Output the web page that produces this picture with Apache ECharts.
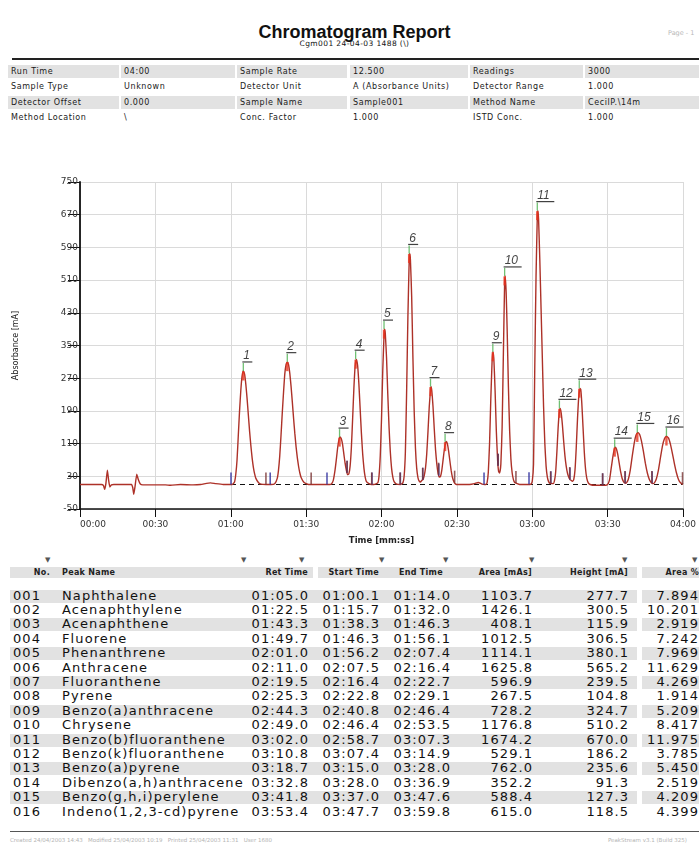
<!DOCTYPE html>
<html><head><meta charset="utf-8">
<script src="https://cdn.jsdelivr.net/npm/echarts/dist/echarts.min.js"></script>
<style>
html,body{margin:0;padding:0;background:#fff;}
body{width:699px;height:846px;position:relative;overflow:hidden;font-family:"DejaVu Sans",sans-serif;color:#111;}
.a{position:absolute;white-space:nowrap;}
.band{position:absolute;background:#e2e2e2;}
.info{font-size:8px;letter-spacing:0.6px;color:#1a1a1a;line-height:13px;}
.hdr{font-size:8px;font-weight:bold;letter-spacing:0.3px;color:#222;line-height:10px;}
.cell{font-size:13px;letter-spacing:1.1px;color:#111;line-height:14px;}
#chart{position:absolute;left:0;top:140px;width:699px;height:410px;}
</style>
</head><body>
<div class="a" style="left:5px;width:699px;top:21px;text-align:center;font-family:'Liberation Sans',Arial,sans-serif;font-weight:bold;font-size:18px;line-height:22px;">Chromatogram Report</div>
<div class="a" style="left:5px;width:699px;top:39px;text-align:center;font-size:7.5px;line-height:10px;letter-spacing:0.4px;">Cgm001 24-04-03 1488 (\)</div>
<div class="a" style="left:668px;top:29px;font-size:6.5px;color:#b8b8b8;line-height:9px;">Page - 1</div>
<div class="a" style="left:12px;top:58px;width:687px;height:2px;background:#222;"></div>
<div id="info"></div>
<div id="chart"></div>
<div id="table"></div>
<div class="a" style="left:10px;top:831px;width:689px;height:1px;background:#555;"></div>
<div class="a" style="left:10px;top:836px;font-size:5.5px;color:#b4b4b4;line-height:8px;">Created 24/04/2003 14:43 &nbsp; Modified 25/04/2003 10:19 &nbsp; Printed 25/04/2003 11:31 &nbsp; User 1680</div>
<div class="a" style="left:608px;top:836px;font-size:5.5px;color:#b4b4b4;line-height:8px;">PeakStream v3.1 (Build 325)</div>
<script>
// ---------------- data ----------------
const infoRows = [
  ['Run Time','04:00','Sample Rate','12.500','Readings','3000'],
  ['Sample Type','Unknown','Detector Unit','A (Absorbance Units)','Detector Range','1.000'],
  ['Detector Offset','0.000','Sample Name','Sample001','Method Name','CecilP.\\14m'],
  ['Method Location','\\','Conc. Factor','1.000','ISTD Conc.','1.000']
];
const xTickLabels = ['00:00','00:30','01:00','01:30','02:00','02:30','03:00','03:30','04:00'];
const tableHeaders = ['No.','Peak Name','Ret Time','Start Time','End Time','Area [mAs]','Height [mA]','Area %'];
const peakNo = ['001','002','003','004','005','006','007','008','009','010','011','012','013','014','015','016'];
const peakNames = ['Naphthalene','Acenaphthylene','Acenaphthene','Fluorene','Phenanthrene','Anthracene','Fluoranthene','Pyrene','Benzo(a)anthracene','Chrysene','Benzo(b)fluoranthene','Benzo(k)fluoranthene','Benzo(a)pyrene','Dibenzo(a,h)anthracene','Benzo(g,h,i)perylene','Indeno(1,2,3-cd)pyrene'];
const retTimes = ['01:05.0','01:22.5','01:43.3','01:49.7','02:01.0','02:11.0','02:19.5','02:25.3','02:44.3','02:49.0','03:02.0','03:10.8','03:18.7','03:32.8','03:41.8','03:53.4'];
const startTimes = ['01:00.1','01:15.7','01:38.3','01:46.3','01:56.2','02:07.5','02:16.4','02:22.8','02:40.8','02:46.4','02:58.7','03:07.4','03:15.0','03:28.0','03:37.0','03:47.7'];
const endTimes = ['01:14.0','01:32.0','01:46.3','01:56.1','02:07.4','02:16.4','02:22.7','02:29.1','02:46.4','02:53.5','03:07.3','03:14.9','03:28.0','03:36.9','03:47.6','03:59.8'];
const areas = ['1103.7','1426.1','408.1','1012.5','1114.1','1625.8','596.9','267.5','728.2','1176.8','1674.2','529.1','762.0','352.2','588.4','615.0'];
const heights = [277.7,300.5,115.9,306.5,380.1,565.2,239.5,104.8,324.7,510.2,670.0,186.2,235.6,91.3,127.3,118.5];
const areaPct = ['7.894','10.201','2.919','7.242','7.969','11.629','4.269','1.914','5.209','8.417','11.975','3.785','5.450','2.519','4.209','4.399'];
const baselineLevel = 10;
// detector trace [seconds, mA]
const trace = [
[0,10],[8.5,10],[9.3,8],[9.8,-2],[10.3,12],[10.9,45],[11.4,20],[11.9,4],[12.5,9],[13.5,10],
[20.5,10],[21.0,2],[21.4,-14],[21.9,5],[22.6,35],[23.2,22],[24,11],[25,9],
[34,9],[36,8],[40,10],[45,9],[48,10],[52,14],[54,12],[57,10],[60,10],
[60.5,10],[61.5,16],[62,35],[62.5,70],[63,130],[63.5,190],[64,240],[64.5,275],[65,288],[65.5,280],[66,255],[66.5,220],[67,180],[67.5,140],[68,105],[68.5,75],[69,52],[69.5,36],[70,25],[71,15],[72,11],[74,10],
[76,10],[77.5,12],[78.5,25],[79,45],[79.5,80],[80,130],[80.5,185],[81,235],[81.5,280],[82,303],[82.5,310],[83,303],[83.5,282],[84,250],[84.5,212],[85,172],[85.5,135],[86,102],[86.5,75],[87,54],[87.5,38],[88,27],[89,16],[90,12],[91,10],[98,10],
[100,11],[100.8,20],[101.5,45],[102,70],[102.5,98],[103,118],[103.5,126],[104,122],[104.5,108],[105,85],[105.5,62],[106,45],[106.5,34],
[107,36],[107.5,55],[108,100],[108.5,170],[109,245],[109.5,300],[110,316],[110.5,300],[111,255],[111.5,195],[112,135],[112.5,85],[113,50],[113.5,28],[114,17],[115,12],[116,10],
[117,10],[118.5,14],[119,30],[119.5,80],[120,170],[120.5,290],[121,375],[121.2,390],[121.5,380],[122,320],[122.5,230],[123,150],[123.5,90],[124,50],[124.5,28],[125,17],[126,11],[127.5,10],
[128.5,14],[129,30],[129.5,90],[130,240],[130.5,420],[131,555],[131.2,575],[131.5,560],[132,470],[132.5,320],[133,190],[133.5,100],[134,50],[134.5,27],[135,18],[135.5,16],[136,20],
[136.5,22],[137,32],[137.5,50],[138,85],[138.5,140],[139,200],[139.5,242],[139.7,249],[140,240],[140.5,200],[141,145],[141.5,95],[142,60],[142.5,38],[143,28],
[143.5,30],[144,45],[144.5,70],[145,95],[145.5,112],[145.8,115],[146.2,110],[146.7,92],[147.2,68],[147.7,45],[148.2,28],[148.8,17],[149.5,11],[150.5,10],
[155,10],[157,12],[158.5,15],[160,11],[161,10],
[161.5,10],[162,14],[162.5,40],[163,110],[163.5,220],[164,310],[164.3,335],[164.7,318],[165.2,240],[165.7,140],[166.2,70],[166.6,42],
[167,38],[167.5,60],[168,150],[168.5,330],[169,505],[169.2,520],[169.6,480],[170,390],[170.5,250],[171,140],[171.5,72],[172,38],[172.5,22],[173,15],[174,12],[175,10],
[178,10],[179.5,11],[180,18],[180.5,60],[181,300],[181.5,520],[182,665],[182.2,680],[182.5,660],[183,560],[183.5,440],[184,320],[184.5,200],[185,110],[185.5,55],[186,28],[186.5,17],[187,13],[188.3,12],
[188.8,18],[189.3,40],[189.8,90],[190.3,150],[190.8,190],[191.1,196],[191.5,185],[192,155],[192.5,115],[193,80],[193.5,55],[194,38],[194.5,28],[195,22],[195.5,20],[196,18],
[196.5,22],[197,45],[197.5,100],[198,170],[198.5,225],[199,245],[199.3,242],[199.7,210],[200.2,150],[200.7,90],[201.2,48],[201.7,25],[202.3,14],[203,10],[205,8],[208,8],[209.8,9],
[210.7,20],[211.3,45],[212,75],[212.6,95],[213,101],[213.5,97],[214,84],[214.6,62],[215.2,40],[215.8,24],[216.5,15],[217,13],
[217.5,14],[218.2,22],[219,45],[219.8,80],[220.6,112],[221.3,131],[222,137],[222.7,133],[223.4,118],[224.2,92],[225,62],[225.8,38],[226.6,22],[227.4,14],[228,12],
[228.6,14],[229.4,24],[230.2,45],[231,75],[231.8,104],[232.6,122],[233.4,128],[234.2,124],[235,108],[235.8,85],[236.6,60],[237.4,38],[238.2,22],[239,14],[240,10]
];

// ---------------- helpers ----------------
function toSec(s){const p=s.split(':');return parseInt(p[0],10)*60+parseFloat(p[1]);}
function valueAt(t){
  for(let i=1;i<trace.length;i++){
    if(trace[i][0]>=t){const a=trace[i-1],b=trace[i];const f=(t-a[0])/((b[0]-a[0])||1);return a[1]+(b[1]-a[1])*f;}
  }
  return trace[trace.length-1][1];
}
function addDiv(parent,cls,style,text){const d=document.createElement('div');d.className=cls;d.setAttribute('style',style);if(text!==undefined)d.textContent=text;parent.appendChild(d);return d;}

// ---------------- info table ----------------
(function(){
  const host=document.getElementById('info');
  const cellX=[[8,119],[121,235],[237,347],[350,468],[470,583],[585,699]];
  const rowY=[71,86.5,102,117.5];
  infoRows.forEach((row,r)=>{
    row.forEach((txt,c)=>{
      const [x0,x1]=cellX[c];
      if(r%2===0) addDiv(host,'band',`left:${x0}px;top:${rowY[r]-6.5}px;width:${x1-x0}px;height:13px;`);
      addDiv(host,'a info',`left:${x0+3}px;top:${rowY[r]-6.5}px;`,txt);
    });
  });
})();

// ---------------- peak table ----------------
(function(){
  const host=document.getElementById('table');
  const arrowX=[49,245,303,383,447,533,626,696];
  arrowX.forEach(x=>addDiv(host,'a',`left:${x-4}px;top:556px;font-size:7px;color:#555;line-height:8px;`,'\u25BC'));
  [[10,313],[318,637],[642,699]].forEach(b=>addDiv(host,'band',`left:${b[0]}px;top:567px;width:${b[1]-b[0]}px;height:11px;`));
  const hdrPos=[{r:50},{l:62},{r:308},{r:379},{r:443},{r:532},{r:628},{r:699}];
  tableHeaders.forEach((h,i)=>{
    const p=hdrPos[i];
    const pos=p.l!==undefined?`left:${p.l}px;`:`right:${699-p.r}px;`;
    addDiv(host,'a hdr',pos+'top:567.5px;',h);
  });
  const colRight=[308,379,450,532,628,698];
  for(let i=0;i<peakNo.length;i++){
    const yc=596+i*14.4;
    if(i%2===0){
      addDiv(host,'band',`left:10px;top:${yc-6.5}px;width:627px;height:13px;`);
      addDiv(host,'band',`left:642px;top:${yc-6.5}px;width:57px;height:13px;`);
    }
    const top=yc-7.5;
    addDiv(host,'a cell',`left:13px;top:${top}px;`,peakNo[i]);
    addDiv(host,'a cell',`left:62px;top:${top}px;`,peakNames[i]);
    const vals=[retTimes[i],startTimes[i],endTimes[i],areas[i],heights[i].toFixed(1),areaPct[i]];
    vals.forEach((v,c)=>addDiv(host,'a cell',`right:${699-colRight[c]-1.1}px;top:${top}px;`,v));
  }
})();

// ---------------- chart ----------------
const retSec=retTimes.map(toSec), startSec=startTimes.map(toSec), endSec=endTimes.map(toSec);
const apex=retSec.map((t,i)=>[t,heights[i]+baselineLevel]);
const chart=echarts.init(document.getElementById('chart'),null,{renderer:'canvas'});
const fontFam='"DejaVu Sans", sans-serif';
chart.setOption({
  animation:false,
  grid:{left:80,right:11,top:42,bottom:40},
  xAxis:{type:'value',min:0,max:240,interval:30,
    name:'Time [mm:ss]',nameLocation:'middle',nameGap:27,
    nameTextStyle:{fontSize:8.5,fontWeight:'bold',color:'#222',fontFamily:fontFam},
    axisLine:{onZero:false,lineStyle:{color:'#111',width:1.5}},
    axisTick:{show:true,length:8,lineStyle:{color:'#111',width:1}},
    axisLabel:{fontSize:9,color:'#333',margin:11,fontFamily:fontFam,alignMinLabel:'left',
      formatter:v=>xTickLabels[Math.round(v/30)]},
    splitLine:{show:true,lineStyle:{color:'#dadada',width:1}}},
  yAxis:{type:'value',min:-50,max:750,interval:80,
    name:'Absorbance [mA]',nameLocation:'middle',nameGap:60,
    nameTextStyle:{fontSize:8,color:'#222',fontFamily:fontFam},
    axisLine:{show:true,lineStyle:{color:'#111',width:1.8}},
    axisTick:{show:true,length:12,lineStyle:{color:'#111',width:1}},
    axisLabel:{fontSize:9,color:'#333',margin:2,fontFamily:fontFam},
    splitLine:{show:true,lineStyle:{color:'#dadada',width:1}}},
  series:[
    {type:'line',name:'baseline',data:[[startSec[0],baselineLevel],[endSec[endSec.length-1],baselineLevel]],
     showSymbol:false,silent:true,z:2,lineStyle:{color:'#111',width:1.2,type:[5,4]}},
    {type:'line',name:'signal',data:trace,showSymbol:false,smooth:0.15,z:3,
     lineStyle:{color:'#ad3128',width:1.4}},
    {type:'scatter',name:'start',z:4,symbol:'rect',symbolSize:[1.6,12],symbolOffset:[0,-6],
     itemStyle:{color:'#2c2c9c'},data:startSec.map(t=>[t,valueAt(t)])},
    {type:'scatter',name:'end',z:4,symbol:'rect',symbolSize:[1.6,12],symbolOffset:[0,-6],
     itemStyle:{color:'#7a3434'},data:endSec.map(t=>[t,valueAt(t)])},
    {type:'scatter',name:'apexRed',z:5,symbol:'rect',symbolSize:[2.4,9],symbolOffset:[0,5],
     itemStyle:{color:'#e8341f'},data:apex},
    {type:'scatter',name:'apexGreen',z:5,symbol:'rect',symbolSize:[1.3,8],symbolOffset:[0,-4],
     itemStyle:{color:'#4cb050'},data:apex},
    {type:'scatter',name:'underline',z:5,symbol:'rect',itemStyle:{color:'#111'},
     data:apex.map((p,i)=>{const w=(i+1)<10?10:18;return {value:p,symbolSize:[w,1.2],symbolOffset:[w/2-1,-9]};})},
    {type:'scatter',name:'labels',z:6,symbol:'circle',symbolSize:2,itemStyle:{color:'rgba(0,0,0,0)'},
     data:apex,
     label:{show:true,position:'top',distance:9,align:'left',offset:[0,1],
       formatter:p=>String(p.dataIndex+1),fontSize:12,fontStyle:'italic',color:'#111',
       fontFamily:'"Liberation Sans", Arial, sans-serif'}}
  ]
});
</script>
</body></html>
